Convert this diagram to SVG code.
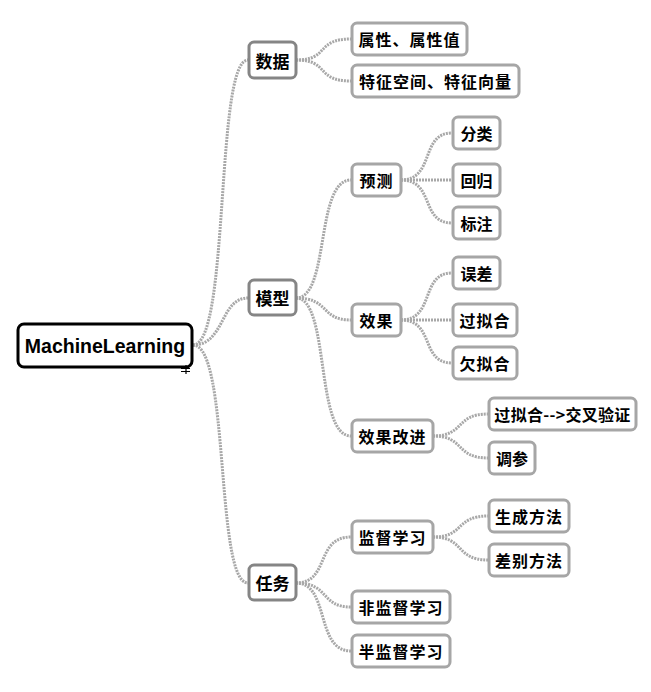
<svg xmlns="http://www.w3.org/2000/svg" width="651" height="692" viewBox="0 0 651 692">
<style>
.n rect{fill:#fff;stroke:#a6a6a6;stroke-width:3}
.l1 rect{stroke:#858585}
.root rect{stroke:#000}
text{font-family:"Noto Sans CJK SC","Liberation Sans",sans-serif;font-weight:bold;font-size:16px;fill:#000;text-anchor:middle;dominant-baseline:central}
.l1 text{font-size:17px}
.root text{font-family:"Liberation Sans",Arial,sans-serif;font-size:19.5px}
.c path{fill:none;stroke:#a8a8a8;stroke-width:3;stroke-dasharray:2 1}
</style>
<rect width="651" height="692" fill="#fff"/>
<g class="c">
<path d="M193 345 C230 345 215 60 248 60"/>
<path d="M193 345 C225 345 220 298 248 298"/>
<path d="M193 345 C230 345 215 583 248 583"/>
<path d="M296 60 C330 60 315 39 351 39"/>
<path d="M296 60 C330 60 315 81 351 81"/>
<path d="M296 298 C330 298 315 180 351 180"/>
<path d="M296 298 C330 298 320 320 351 320"/>
<path d="M296 298 C330 298 315 436 351 436"/>
<path d="M401 180 C435 180 420 133 452 133"/>
<path d="M401 180 L452 180"/>
<path d="M401 180 C435 180 420 223 452 223"/>
<path d="M401 320 C435 320 420 273 452 273"/>
<path d="M401 320 L452 320"/>
<path d="M401 320 C435 320 420 363 452 363"/>
<path d="M433 436 C465 436 455 414 488 414"/>
<path d="M433 436 C465 436 455 458 488 458"/>
<path d="M296 583 C330 583 315 537 351 537"/>
<path d="M296 583 C330 583 320 607 351 607"/>
<path d="M296 583 C330 583 315 651 351 651"/>
<path d="M433 537 C465 537 455 516 488 516"/>
<path d="M433 537 C465 537 455 560 488 560"/>
</g>
<g id="root" class="n root"><rect x="18" y="324" width="174" height="43" rx="6"/><text x="105" y="345.5">MachineLearning</text>
<path d="M181 368.5 H190 M181 371.5 H190 M186 365 V374" fill="none" stroke="#000" stroke-width="1.2"/></g>
<g id="n-data" class="n l1"><rect x="249" y="42" width="47" height="36" rx="5"/><text x="272.5" y="60">数据</text></g>
<g id="n-model" class="n l1"><rect x="249" y="280" width="47" height="35" rx="5"/><text x="272.5" y="297.5">模型</text></g>
<g id="n-task" class="n l1"><rect x="249" y="565" width="47" height="35" rx="5"/><text x="272.5" y="582.5">任务</text></g>
<g id="n-attr" class="n"><rect x="352" y="23" width="115" height="32" rx="5"/><text x="409.5" y="39" letter-spacing="1">属性、属性值</text></g>
<g id="n-feat" class="n"><rect x="352" y="65" width="167" height="32" rx="5"/><text x="435.5" y="81" letter-spacing="1">特征空间、特征向量</text></g>
<g id="n-pred" class="n"><rect x="352" y="164" width="49" height="32" rx="5"/><text x="376.5" y="180" letter-spacing="1">预测</text></g>
<g id="n-eff" class="n"><rect x="352" y="304" width="49" height="32" rx="5"/><text x="376.5" y="320" letter-spacing="1">效果</text></g>
<g id="n-imp" class="n"><rect x="352" y="420" width="81" height="32" rx="5"/><text x="392.5" y="436" letter-spacing="1">效果改进</text></g>
<g id="n-cls" class="n"><rect x="453" y="117" width="47" height="32" rx="5"/><text x="476.5" y="133">分类</text></g>
<g id="n-reg" class="n"><rect x="453" y="164" width="47" height="32" rx="5"/><text x="476.5" y="180">回归</text></g>
<g id="n-tag" class="n"><rect x="453" y="207" width="47" height="32" rx="5"/><text x="476.5" y="223">标注</text></g>
<g id="n-err" class="n"><rect x="453" y="257" width="47" height="32" rx="5"/><text x="476.5" y="273">误差</text></g>
<g id="n-over" class="n"><rect x="453" y="304" width="64" height="32" rx="5"/><text x="485" y="320" letter-spacing="1">过拟合</text></g>
<g id="n-under" class="n"><rect x="453" y="347" width="64" height="32" rx="5"/><text x="485" y="363" letter-spacing="1">欠拟合</text></g>
<g id="n-cv" class="n"><rect x="489" y="398" width="147" height="32" rx="5"/><text x="562.5" y="414" letter-spacing="0.3">过拟合--&gt;交叉验证</text></g>
<g id="n-tune" class="n"><rect x="489" y="442" width="46" height="32" rx="5"/><text x="512" y="458">调参</text></g>
<g id="n-sup" class="n"><rect x="352" y="521" width="81" height="32" rx="5"/><text x="392.5" y="537" letter-spacing="1">监督学习</text></g>
<g id="n-gen" class="n"><rect x="489" y="500" width="80" height="32" rx="5"/><text x="529" y="516" letter-spacing="1">生成方法</text></g>
<g id="n-disc" class="n"><rect x="489" y="544" width="80" height="32" rx="5"/><text x="529" y="560" letter-spacing="1">差别方法</text></g>
<g id="n-unsup" class="n"><rect x="352" y="591" width="98" height="32" rx="5"/><text x="401" y="607" letter-spacing="1">非监督学习</text></g>
<g id="n-semi" class="n"><rect x="352" y="635" width="98" height="32" rx="5"/><text x="401" y="651" letter-spacing="1">半监督学习</text></g>
</svg>
